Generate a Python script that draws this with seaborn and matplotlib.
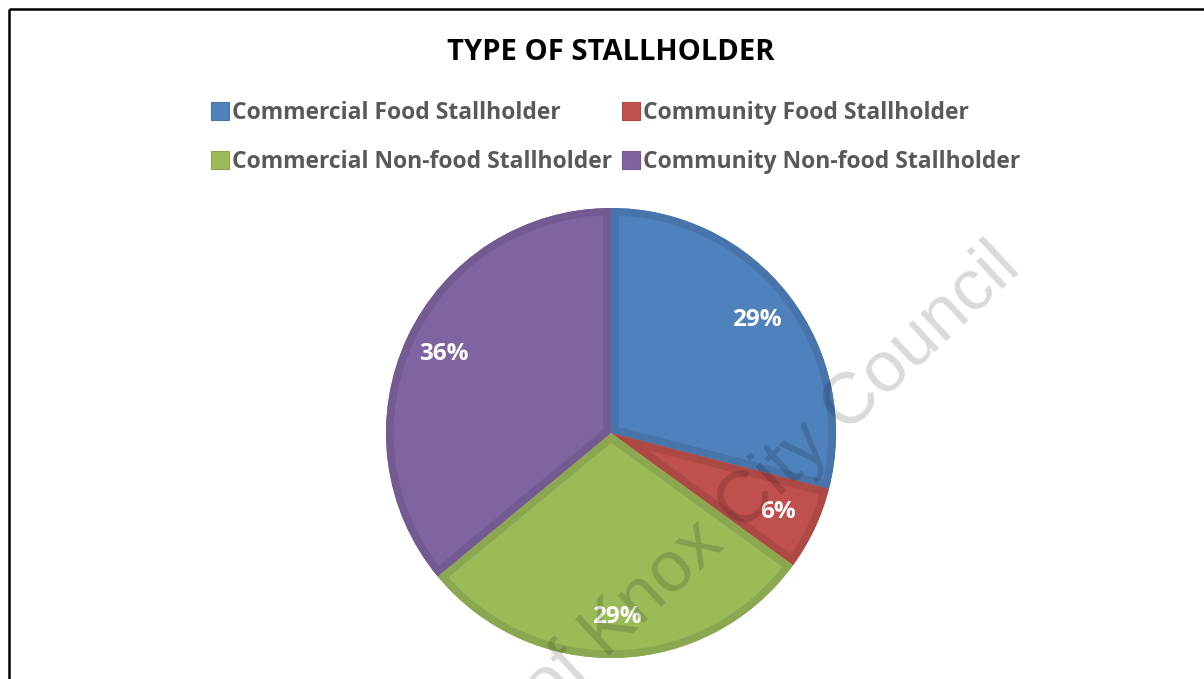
import matplotlib
matplotlib.use("Agg")
import matplotlib.pyplot as plt
import matplotlib.colors as mcolors
from matplotlib.lines import Line2D
from matplotlib.patches import Wedge
import seaborn as sns

# Stallholder mix (percent of all stallholders)
categories = [
    "Commercial Food Stallholder",
    "Community Food Stallholder",
    "Commercial Non-food Stallholder",
    "Community Non-food Stallholder",
]
shares = [29, 6, 29, 36]
fill_colors = ["#4F81BD", "#C0504D", "#9BBB59", "#8064A2"]
title_text = "TYPE OF STALLHOLDER"
watermark_text = "of Knox City Council"

sns.set_theme(style="white")
plt.rcParams["font.family"] = ["Open Sans", "DejaVu Sans"]

W, H = 1204, 679
fig = plt.figure(figsize=(W / 100, H / 100), dpi=100)
fig.patch.set_facecolor("white")


def px_box(left, top, width, height):
    return [left / W, 1 - (top + height) / H, width / W, height / H]


def shade(color, factor):
    r, g, b = mcolors.to_rgb(color)
    return (r * factor, g * factor, b * factor)


# Pie: centre (611, 433) px, radius 225 px
lim = 1.05
side = 450 * lim
ax = fig.add_axes(px_box(611 - side / 2, 433 - side / 2, side, side))
wedges, _, autotexts = ax.pie(
    shares,
    colors=fill_colors,
    startangle=90,
    counterclock=False,
    autopct="%.0f%%",
    pctdistance=0.82,
    wedgeprops=dict(linewidth=0),
    textprops=dict(color="white", fontsize=17.5, fontweight="bold"),
)
ax.set_xlim(-lim, lim)
ax.set_ylim(-lim, lim)
ax.set_aspect("equal")
ax.axis("off")

# Bevelled rim: a darker stroke kept inside each wedge
for w, c in zip(wedges, fill_colors):
    rim = Wedge(w.center, w.r, w.theta1, w.theta2, facecolor="none",
                edgecolor=shade(c, 0.9), linewidth=11, joinstyle="round",
                zorder=w.get_zorder() + 0.1)
    ax.add_patch(rim)
    rim.set_clip_on(True)
    rim.set_clip_path(w)

# Title
fig.text(611 / W, 1 - 53 / H, title_text, ha="center", va="center",
         fontsize=21, fontweight="bold", color="black")

# Legend in two rows
handles = [
    Line2D([], [], marker="s", linestyle="none", markersize=12.5,
           markerfacecolor=c, markeredgecolor=shade(c, 0.9), markeredgewidth=0.8)
    for c in fill_colors
]
order = [0, 2, 1, 3]
fig.legend(
    [handles[i] for i in order],
    [categories[i] for i in order],
    ncol=2,
    loc="upper left",
    bbox_to_anchor=(199 / W, 1 - 90 / H),
    frameon=False,
    borderpad=0,
    handlelength=0.8,
    handletextpad=0.12,
    columnspacing=0.45,
    labelspacing=1.07,
    prop=dict(family=["Open Sans", "DejaVu Sans"], weight="bold", size=16.5),
    labelcolor="#595959",
)

# Diagonal watermark
fig.text(1023 / W, 1 - 270 / H, watermark_text, ha="right", va="baseline",
         rotation=43, rotation_mode="anchor", fontsize=52,
         family=["Liberation Sans", "DejaVu Sans"], color="black", alpha=0.15,
         zorder=10)

# Page frame (top and left edges)
for xs, ys in [((8.5 / W, 1.0), (1 - 8.5 / H, 1 - 8.5 / H)),
               ((8.5 / W, 8.5 / W), (1 - 8.5 / H, 0.0))]:
    fig.add_artist(Line2D(xs, ys, transform=fig.transFigure, color="black",
                          linewidth=1.8, solid_capstyle="butt"))

fig.savefig("out.png", dpi=100, facecolor="white")
